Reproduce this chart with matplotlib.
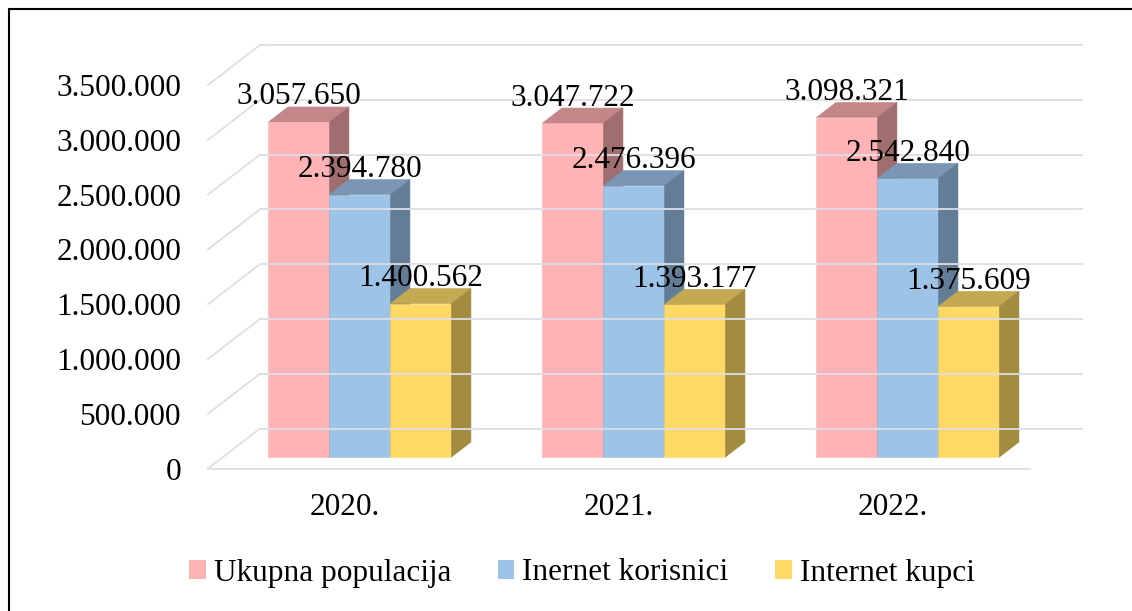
import matplotlib
matplotlib.use("Agg")
import matplotlib.pyplot as plt
from matplotlib.patches import Polygon, Patch, Rectangle
from matplotlib.lines import Line2D
from matplotlib.transforms import IdentityTransform

# Données
godine = ["2020.", "2021.", "2022."]
serije = ["Ukupna populacija", "Inernet korisnici", "Internet kupci"]
ukupna_populacija = [3057650, 3047722, 3098321]
internet_korisnici = [2394780, 2476396, 2542840]
internet_kupci = [1400562, 1393177, 1375609]
y_ticks = [0, 500000, 1000000, 1500000, 2000000, 2500000, 3000000, 3500000]

# Couleurs (face avant, dessus, côté)
couleurs = [
    ("#FFB3B5", "#C48688", "#A16E6F"),
    ("#9DC3E6", "#7A96B4", "#647D97"),
    ("#FFD966", "#C4A852", "#A38B40"),
]
grid_color = "#dcdee7"

plt.rcParams["font.family"] = ["Liberation Serif", "DejaVu Serif"]
FS = 22.5

W, H = 1132, 611
fig = plt.figure(figsize=(W / 100, H / 100), dpi=100)
ax = fig.add_axes([208 / W, (H - 468.5) / H, 822 / W, 383.5 / H])
ax.set_xlim(-0.5, 2.5)
ax.set_ylim(0, 3500000)
for s in ax.spines.values():
    s.set_visible(False)
ax.set_facecolor("none")

# profondeur oblique (pixels) : fond du graphique
DX, DY = 52, 40
D_FRONT, D_BACK = 11.5 / 40, 26.5 / 40


def proj(x, v, d):
    px, py = ax.transData.transform((x, v))
    return px + d * DX, py + d * DY


def fmt(v):
    return f"{int(v):,}".replace(",", ".")


# Axes / graduations
ax.set_yticks(y_ticks)
ax.set_yticklabels([fmt(t) for t in y_ticks])
ax.set_xticks(range(len(godine)))
ax.set_xticklabels(godine)
ax.tick_params(axis="y", length=0, pad=19.4, labelsize=FS)
ax.tick_params(axis="x", length=0, pad=17.5, labelsize=FS)

ident = IdentityTransform()

# Quadrillage : mur du fond + diagonales
for t in y_ticks:
    x0, y0 = proj(-0.5, t, 1)
    x1, y1 = proj(2.5, t, 1)
    fig.add_artist(Line2D([x0, x1], [y0, y1], color=grid_color, lw=1.3,
                          transform=ident))
    fx, fy = proj(-0.5, t, 0)
    fig.add_artist(Line2D([fx, x0], [fy, y0], color=grid_color, lw=1.3,
                          transform=ident))
x0, y0 = proj(-0.5, 0, 0)
x1, y1 = proj(2.5, 0, 0)
fig.add_artist(Line2D([x0, x1], [y0, y1], color=grid_color, lw=1.3,
                      transform=ident))

# Barres 3D
valeurs = [ukupna_populacija, internet_korisnici, internet_kupci]
bw = 61 / 274
offsets = [-bw, 0, bw]
for i in range(len(godine)):
    for k, serie in enumerate(valeurs):
        v = serie[i]
        xl = i + offsets[k] - bw / 2
        xr = i + offsets[k] + bw / 2
        front_c, top_c, side_c = couleurs[k]
        front = [proj(xl, 0, D_FRONT), proj(xr, 0, D_FRONT),
                 proj(xr, v, D_FRONT), proj(xl, v, D_FRONT)]
        top = [proj(xl, v, D_FRONT), proj(xr, v, D_FRONT),
               proj(xr, v, D_BACK), proj(xl, v, D_BACK)]
        side = [proj(xr, 0, D_FRONT), proj(xr, 0, D_BACK),
                proj(xr, v, D_BACK), proj(xr, v, D_FRONT)]
        for pts, c in ((front, front_c), (top, top_c), (side, side_c)):
            fig.add_artist(Polygon(pts, closed=True, facecolor=c, edgecolor=c,
                                   lw=0.4, transform=ident))
        # étiquette de valeur
        lx, _ = proj(i + offsets[k], v, D_FRONT)
        _, ly = proj(i + offsets[k], v, D_BACK)
        fig.text(lx / W, (ly + 2.5) / H, fmt(v), ha="center", va="baseline",
                 fontsize=FS, color="black")

# Légende
handles = [Patch(facecolor=c[0], edgecolor="none") for c in couleurs]
fig.legend(handles, serije, loc="center", ncol=3, frameon=False,
           fontsize=FS, handlelength=0.52, handleheight=0.52,
           handletextpad=0.26, columnspacing=1.5,
           bbox_to_anchor=(582 / W, (H - 573) / H))

# Cadre (haut et gauche)
fig.add_artist(Rectangle((8.5 / W, -0.2), 1.5, (H - 8.5) / H + 0.2,
                         transform=fig.transFigure, fill=False,
                         edgecolor="black", lw=1.5, clip_on=False))

fig.savefig("out.png", dpi=100)
